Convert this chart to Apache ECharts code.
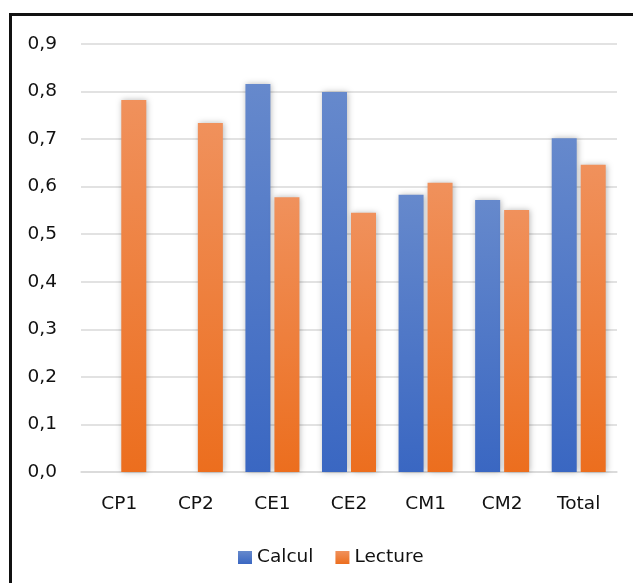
<!DOCTYPE html>
<html>
<head>
<meta charset="utf-8">
<script src="https://cdn.jsdelivr.net/npm/echarts@6/dist/echarts.min.js"></script>
<style>
html,body{margin:0;padding:0;background:#fff;}
#frame{position:absolute;left:9px;top:13px;width:700px;height:700px;border-left:3px solid #111;border-top:3px solid #111;}
#chart{position:absolute;left:0;top:0;width:633px;height:583px;}
</style>
</head>
<body>
<div id="frame"></div>
<div id="chart"></div>
<script>
const categories = ['CP1','CP2','CE1','CE2','CM1','CM2','Total'];
const calcul = [null, null, 0.816, 0.799, 0.583, 0.572, 0.702];
const lecture = [0.782, 0.734, 0.578, 0.545, 0.608, 0.551, 0.646];
const yTicks = [0,0.1,0.2,0.3,0.4,0.5,0.6,0.7,0.8,0.9];

const chart = echarts.init(document.getElementById('chart'));
const font = '"DejaVu Sans", sans-serif';
function grad(top, bottom){
  return new echarts.graphic.LinearGradient(0,0,0,1,[{offset:0,color:top},{offset:1,color:bottom}]);
}
chart.setOption({
  animation:false,
  textStyle:{fontFamily:font},
  grid:{left:81,right:16,top:44,bottom:111,containLabel:false},
  legend:{
    top:543,
    left:233,
    itemWidth:14,itemHeight:13,itemGap:22,
    icon:'rect',
    textStyle:{fontSize:18.5,color:'#111',fontFamily:font},
    data:['Calcul','Lecture']
  },
  xAxis:{
    type:'category',
    data:categories,
    axisLine:{lineStyle:{color:'#d9d9d9',width:1.5}},
    axisTick:{show:false},
    axisLabel:{fontSize:18.5,color:'#111',margin:23,fontFamily:font}
  },
  yAxis:{
    type:'value',
    min:0,max:0.9,interval:0.1,
    axisLine:{show:false},
    axisTick:{show:false},
    splitLine:{lineStyle:{color:'#d9d9d9',width:1.5}},
    axisLabel:{fontSize:18.5,color:'#111',margin:24,fontFamily:font,
      formatter:v=>v.toFixed(1).replace('.',',')}
  },
  series:[
    {name:'Calcul',type:'bar',data:calcul,barWidth:25,barGap:'16%',
      itemStyle:{color:grad('#6689cc','#3a67c2'),shadowBlur:6,shadowColor:'rgba(0,0,0,0.28)',shadowOffsetX:1}},
    {name:'Lecture',type:'bar',data:lecture,barWidth:25,barGap:'16%',
      itemStyle:{color:grad('#f0915c','#ec6e1e'),shadowBlur:6,shadowColor:'rgba(0,0,0,0.28)',shadowOffsetX:1}}
  ]
});
</script>
</body>
</html>
